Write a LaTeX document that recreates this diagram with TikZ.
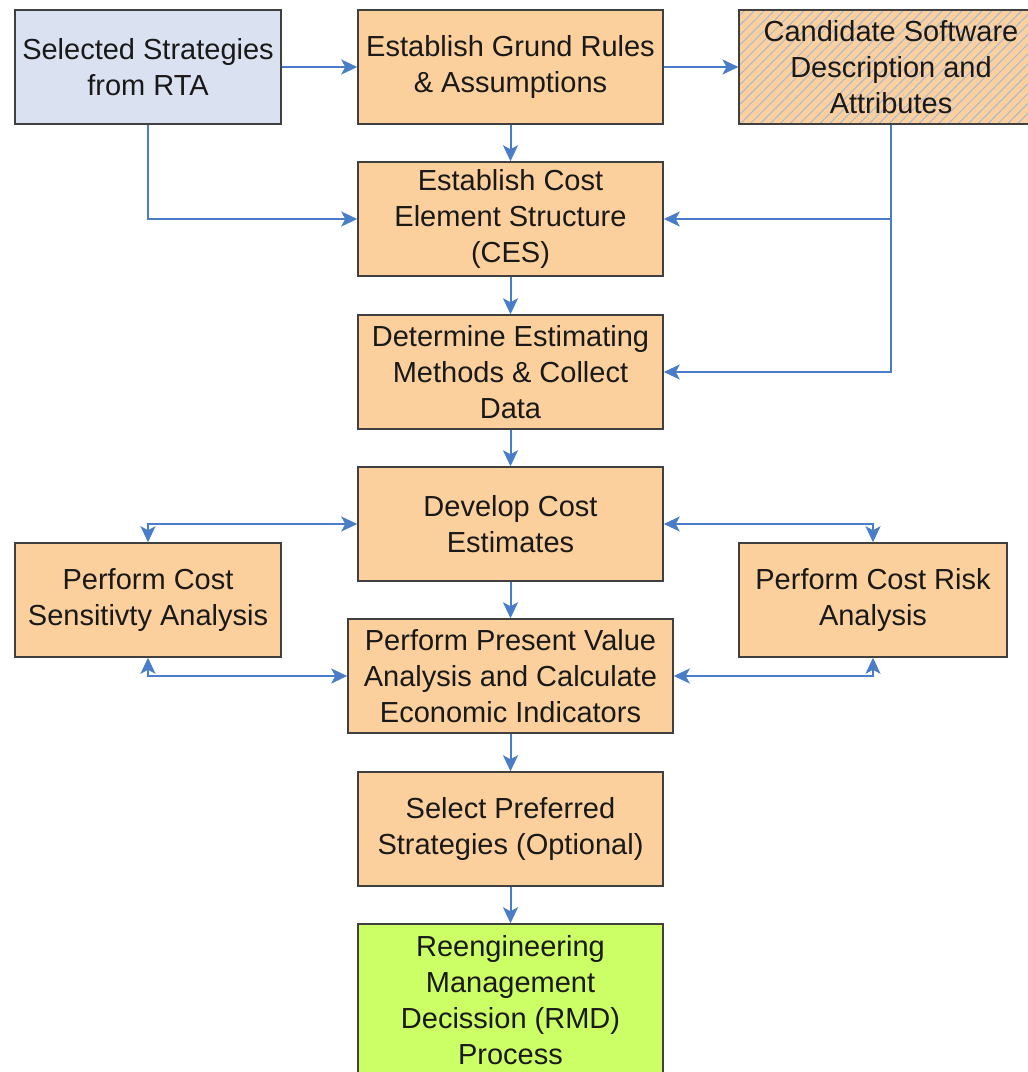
\documentclass[tikz,border=0pt]{standalone}
\usepackage{fontspec}
\setmainfont{Liberation Sans}
\usetikzlibrary{arrows.meta,patterns.meta}
\definecolor{boxorange}{HTML}{FCD09C}
\definecolor{boxblue}{HTML}{DAE2F1}
\definecolor{boxgreen}{HTML}{CCFF66}
\definecolor{linkblue}{HTML}{4A7DC8}
\definecolor{edgegray}{HTML}{404040}
\definecolor{hatchblue}{HTML}{A8B8D8}
\tikzset{
  box/.style={draw=edgegray, line width=1.5pt, fill=boxorange, align=center,
    inner sep=0pt, minimum height=114pt, minimum width=305pt,
    font=\fontsize{29}{36}\selectfont, text=black!90},
  tipa/.tip={Stealth[length=16pt,width=15pt,inset=4pt]},
  conn/.style={draw=linkblue, line width=2pt, -tipa},
  dconn/.style={draw=linkblue, line width=2pt, tipa-tipa}
}
\begin{document}
\begin{tikzpicture}[x=1pt,y=-1pt]
\useasboundingbox (0,0) rectangle (1028,1072);
\clip (0,0) rectangle (1028,1072);
\fill[white] (0,0) rectangle (1028,1072);
\node[box, fill=boxblue, minimum width=266pt] (A) at (148,67) {Selected Strategies\\from RTA};
\node[box] (B) at (510.5,67) {Establish Grund Rules\\\& Assumptions};
\node[box, minimum width=304pt, preaction={fill=boxorange},
  pattern={Lines[angle=45,distance=7pt,line width=1pt]}, pattern color=hatchblue] (C) at (891,67) {};
\node[font=\fontsize{29}{36}\selectfont, align=center, text=black!90] (Ct) at (891,67) {Candidate Software\\Description and\\Attributes};
\node[box] (D) at (510.5,219) {Establish Cost\\Element Structure\\(CES)};
\node[box] (E) at (510.5,372) {Determine Estimating\\Methods \& Collect\\Data};
\node[box] (F) at (510.5,524) {Develop Cost\\Estimates};
\node[box, minimum width=266pt] (G) at (148,600) {Perform Cost\\Sensitivty Analysis};
\node[box, minimum width=268pt] (H) at (873,600) {Perform Cost Risk\\Analysis};
\node[box, minimum width=325pt] (I) at (510.5,676) {Perform Present Value\\Analysis and Calculate\\Economic Indicators};
\node[box] (J) at (510.5,829) {Select Preferred\\Strategies (Optional)};
\node[box, fill=boxgreen, minimum height=152pt] (K) at (510.5,1000) {Reengineering\\Management\\Decission (RMD)\\Process};

\draw[conn] (A) -- (B);
\draw[conn] (B) -- (C);
\draw[conn] (B) -- (D);
\draw[conn] (A.south) |- (D.west);
\draw[conn] (C.south) |- (D.east);
\draw[conn] (C.south) |- (E.east);
\draw[conn] (D) -- (E);
\draw[conn] (E) -- (F);
\draw[conn] (F) -- (I);
\draw[conn] (I) -- (J);
\draw[conn] (J) -- (K);
\draw[dconn] (F.west) -| (G.north);
\draw[dconn] (F.east) -| (H.north);
\draw[dconn] (G.south) |- (I.west);
\draw[dconn] (H.south) |- (I.east);
\end{tikzpicture}
\end{document}
